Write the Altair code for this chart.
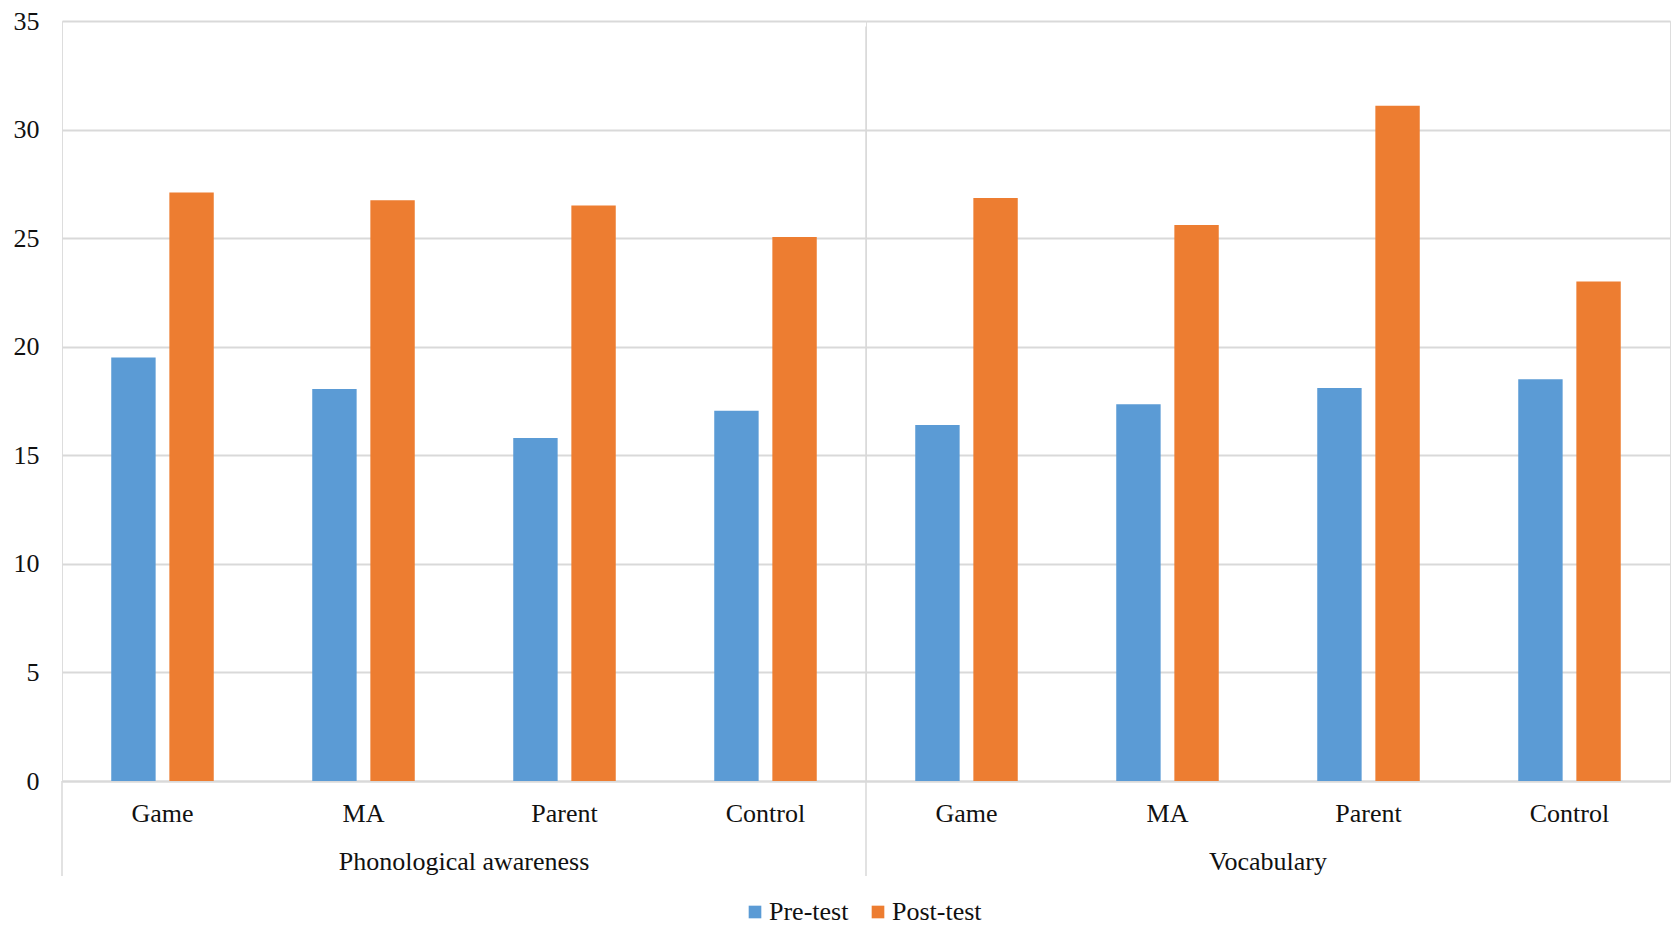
import altair as alt
import pandas as pd

group_names = ["Phonological awareness", "Vocabulary"]
categories = ["Game", "MA", "Parent", "Control"]
series = ["Pre-test", "Post-test"]
pre_test = [19.5, 18.05, 15.8, 17.05, 16.4, 17.35, 18.1, 18.5]
post_test = [27.1, 26.75, 26.5, 25.05, 26.85, 25.6, 31.1, 23.0]
y_ticks = [0, 5, 10, 15, 20, 25, 30, 35]
sep_top = [0, 34.75]

FONT = "Liberation Serif"
BLUE = "#5B9BD5"
ORANGE = "#ED7D31"
GRID = "#D9D9D9"
TEXT = "#111111"
W = 804
H = 760

rows = []
for i in range(8):
    g = group_names[i // 4]
    c = categories[i % 4]
    rows.append({"kind": "bar", "group": g, "category": c, "series": "Pre-test", "value": pre_test[i]})
    rows.append({"kind": "bar", "group": g, "category": c, "series": "Post-test", "value": post_test[i]})
for g, t in zip(group_names, sep_top):
    rows.append({"kind": "sep", "group": g, "category": None, "series": None, "value": t})
df = pd.DataFrame(rows)

bars = alt.Chart().mark_bar().encode(
    x=alt.X("category:N", sort=categories,
            scale=alt.Scale(paddingInner=0.49, paddingOuter=0.245),
            axis=alt.Axis(title=None, labelAngle=0, ticks=False, domain=True,
                          domainColor=GRID, domainWidth=2, labelPadding=19,
                          labelFont=FONT, labelFontSize=26, labelColor=TEXT, grid=False)),
    xOffset=alt.XOffset("series:N", sort=series, scale=alt.Scale(paddingInner=0.236)),
    y=alt.Y("value:Q", scale=alt.Scale(domain=[0, 35]),
            axis=alt.Axis(title=None, values=y_ticks, ticks=False, domain=False,
                          grid=True, gridColor=GRID, gridWidth=2, labelPadding=23,
                          labelFont=FONT, labelFontSize=26, labelColor=TEXT)),
    color=alt.Color("series:N", sort=series,
                    scale=alt.Scale(domain=series, range=[BLUE, ORANGE]),
                    legend=alt.Legend(title=None, orient="none", direction="horizontal",
                                      legendX=680, legendY=878,
                                      symbolType="square", symbolSize=160, symbolStrokeWidth=0,
                                      labelFont=FONT, labelFontSize=26, labelColor=TEXT,
                                      columnPadding=16, labelOffset=1)),
).transform_filter(alt.datum.kind == "bar")

sep = alt.Chart().mark_rule(color=GRID, strokeWidth=1.5).encode(
    x=alt.value(0),
    y=alt.Y("value:Q"),
    y2=alt.value(H + 95),
).transform_filter(alt.datum.kind == "sep")

chart = alt.layer(bars, sep, data=df).properties(width=W, height=H).facet(
    column=alt.Column("group:N", sort=group_names,
                      header=alt.Header(title=None, labelOrient="bottom", labelFont=FONT,
                                        labelFontSize=26, labelColor=TEXT, labelPadding=23)),
    spacing=0,
    bounds="flush",
).properties(
    padding={"left": 5, "top": 0, "right": 0, "bottom": 0}
).configure_view(stroke=None).configure(background="white")

chart.save("out.html", embed_options={"renderer": "svg", "actions": False})
